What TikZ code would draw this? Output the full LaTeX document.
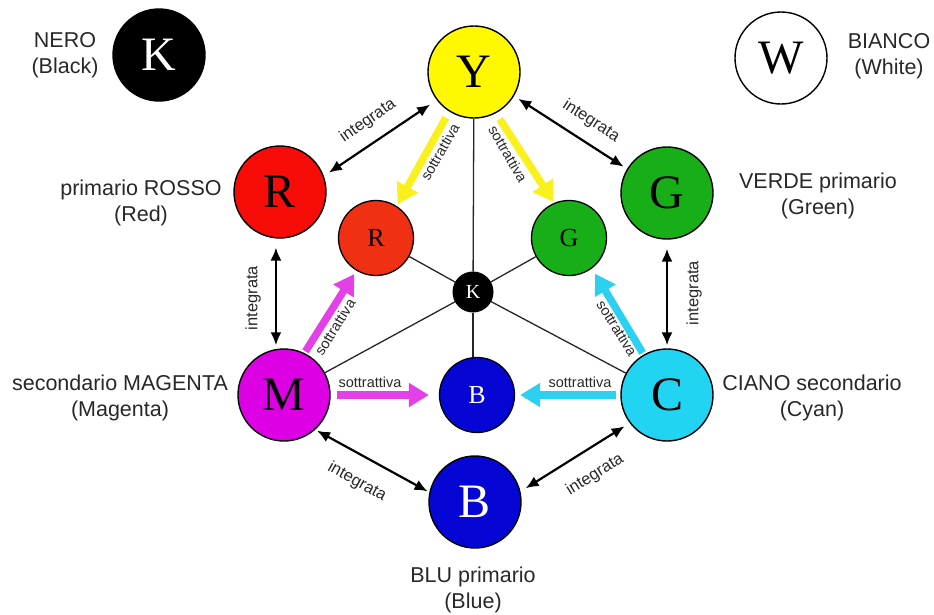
\documentclass[tikz,border=0pt]{standalone}
\usepackage{fontspec}
\setmainfont{Liberation Sans}
\newfontfamily\letterfont{Liberation Serif}
\usetikzlibrary{arrows.meta}
\definecolor{cY}{RGB}{255,248,0}
\definecolor{cR}{RGB}{248,12,8}
\definecolor{cRs}{RGB}{240,48,18}
\definecolor{cG}{RGB}{24,174,24}
\definecolor{cM}{RGB}{222,0,228}
\definecolor{cC}{RGB}{32,212,242}
\definecolor{cB}{RGB}{6,6,212}
\definecolor{aY}{RGB}{250,240,30}
\definecolor{aM}{RGB}{228,64,232}
\definecolor{aC}{RGB}{44,208,240}
\definecolor{txt}{RGB}{40,40,40}
\tikzset{
  bigc/.style={circle,draw=black,line width=1.4pt,minimum size=92pt,inner sep=0pt,
    font=\letterfont\fontsize{48}{48}\selectfont},
  smallc/.style={circle,draw=black,line width=1.3pt,minimum size=75pt,inner sep=0pt,
    font=\letterfont\fontsize{26}{26}\selectfont},
  tinyc/.style={circle,draw=black,line width=1pt,fill=black,text=white,minimum size=40pt,inner sep=0pt,
    font=\letterfont\fontsize{20}{20}\selectfont},
  lbl/.style={align=center,text=txt,font=\fontsize{21.5}{26}\selectfont},
  integ/.style={line width=2.2pt,black,{Latex[length=13pt,width=11pt]}-{Latex[length=13pt,width=11pt]}},
  intlbl/.style={text=txt,font=\fontsize{16.5}{16.5}\selectfont,inner sep=0pt},
  sottr/.style={line width=7.5pt,-{Triangle[length=20pt,width=23pt]}},
  sotlbl/.style={text=txt,font=\fontsize{14.5}{14.5}\selectfont,inner sep=0pt},
  thin/.style={line width=1.3pt,black!85}
}
\begin{document}
\begin{tikzpicture}[x=1pt,y=-1pt]
\useasboundingbox (0,0) rectangle (934,614);
\node[tinyc] (sK) at (473,292) {K};
\node[bigc,fill=cY] (Y) at (474,72) {Y};
\node[bigc,fill=cR] (R) at (280,192) {R};
\node[bigc,fill=cG] (G) at (667,193) {G};
\node[bigc,fill=cM] (M) at (284,395) {M};
\node[bigc,fill=cC] (C) at (667,395) {C};
\node[bigc,fill=cB,text=white] (B) at (475,502) {B};
\node[smallc,fill=cRs] (sR) at (376,238) {R};
\node[smallc,fill=cG] (sG) at (569,238) {G};
\node[smallc,fill=cB,text=white] (sB) at (477,395) {B};
\node[bigc,fill=black,text=white] (Kb) at (159,55) {K};
\node[bigc,fill=white] (W) at (781,58) {W};

\draw[thin] (sK) -- (Y);
\draw[thin] (sK) -- (sR);
\draw[thin] (sK) -- (sG);
\draw[thin] (sK) -- (M);
\draw[thin] (sK) -- (C);
\draw[thin] (sK) -- (sK |- sB.north);

\node[lbl] (tK) at (65,55) {NERO\\(Black)};
\node[lbl] (tW) at (889,56) {BIANCO\\(White)};
\node[lbl] (tR) at (141,203) {primario ROSSO\\(Red)};
\node[lbl] (tG) at (818,196) {VERDE primario\\(Green)};
\node[lbl] (tM) at (120,398) {secondario MAGENTA\\(Magenta)};
\node[lbl] (tC) at (812,398) {CIANO secondario\\(Cyan)};
\node[lbl] (tB) at (473,590) {BLU primario\\(Blue)};

\draw[integ,shorten <=8pt,shorten >=6pt] (Y.217) -- (R.20);
\draw[integ,shorten <=5pt,shorten >=4pt] (Y.-31) -- (G.149);
\draw[integ,shorten <=9pt,shorten >=3pt] (R.265) -- (R.265 |- M.north);
\draw[integ,shorten <=9pt,shorten >=3pt] (G.south) -- (G.south |- C.north);
\draw[integ,shorten <=2pt,shorten >=2pt] (M.-48) -- (B.168);
\draw[integ,shorten <=6pt,shorten >=6pt] (B.13) -- (C.217);

\node[intlbl,rotate=35] (i1) at (368,121) {integrata};
\node[intlbl,rotate=-33] (i2) at (591,121) {integrata};
\node[intlbl,rotate=90] (i3) at (253,298) {integrata};
\node[intlbl,rotate=90] (i4) at (694,293) {integrata};
\node[intlbl,rotate=-29] (i5) at (357,482) {integrata};
\node[intlbl,rotate=32] (i6) at (595,475) {integrata};

\draw[sottr,aY,shorten <=7pt,shorten >=2pt] (Y.238) -- (sR.57);
\draw[sottr,aY,shorten <=7pt,shorten >=1pt] (Y.-62) -- (sG.113);
\draw[sottr,aM,shorten <=2pt,shorten >=4pt] (M.64) -- (sR.239);
\draw[sottr,aC,shorten <=2pt,shorten >=6pt] (C.120) -- (sG.-53);
\draw[sottr,aM,shorten <=6pt,shorten >=10pt] (M.east) -- (sB.west);
\draw[sottr,aC,shorten <=4pt,shorten >=5pt] (C.west) -- (sB.east);

\node[sotlbl,rotate=60] (s1) at (440,152) {sottrattiva};
\node[sotlbl,rotate=-60] (s2) at (508,154) {sottrattiva};
\node[sotlbl,rotate=58] (s3) at (335,327) {sottrattiva};
\node[sotlbl,rotate=-58] (s4) at (617,328) {sottrattiva};
\node[sotlbl] (s5) at (370,382) {sottrattiva};
\node[sotlbl] (s6) at (580,382) {sottrattiva};
\end{tikzpicture}
\end{document}
